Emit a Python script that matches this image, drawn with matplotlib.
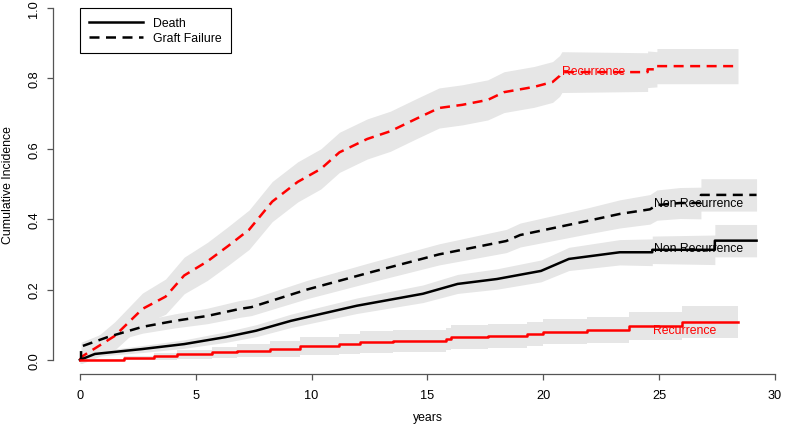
import matplotlib
matplotlib.use("Agg")
import matplotlib.pyplot as plt
import numpy as np
from matplotlib.lines import Line2D

plt.rcParams['font.family'] = ['Liberation Sans', 'DejaVu Sans']

# Recurrence - graft failure (red dashed)
rgf_t = [0, 0.1, 1.5, 2.7, 3.7, 4.5, 5.5, 6.4, 7.3, 8.3, 9.4, 10.4, 11.2, 12.4, 13.4,
         14.5, 15.5, 16.5, 17.6, 18.3, 19.6, 20.4, 20.7, 20.8, 24.5, 24.5, 24.9, 24.9, 28.4]
rgf_v = [0, 0.01, 0.068, 0.145, 0.18, 0.24, 0.28, 0.324, 0.37, 0.45, 0.506, 0.543, 0.59, 0.628, 0.65,
         0.685, 0.716, 0.725, 0.739, 0.761, 0.776, 0.79, 0.807, 0.818, 0.818, 0.826, 0.826, 0.835, 0.835]
rgf_ci = [0.01, 0.02, 0.04, 0.045, 0.05, 0.052, 0.054, 0.055, 0.056, 0.057, 0.057, 0.057, 0.057, 0.057, 0.057,
          0.057, 0.057, 0.057, 0.057, 0.058, 0.058, 0.058, 0.058, 0.058, 0.055, 0.052, 0.05, 0.05, 0.05]

# Non recurrence - graft failure (black dashed)
ngf_t = [0, 0.05, 0.05, 1.2, 2.7, 4.1, 5.5, 6.9, 7.4, 9.8, 12.6, 15.5, 18.4, 19.0, 21.9, 23.3,
         24.6, 24.9, 25.9, 26.8, 26.8, 29.2]
ngf_v = [0, 0, 0.038, 0.065, 0.094, 0.111, 0.125, 0.145, 0.15, 0.2, 0.25, 0.3, 0.338, 0.355, 0.395, 0.415,
         0.428, 0.44, 0.446, 0.446, 0.469, 0.469]
ngf_ci = [0.005, 0.008, 0.012, 0.016, 0.018, 0.02, 0.022, 0.024, 0.024, 0.026, 0.028, 0.03, 0.033, 0.034, 0.037, 0.04,
          0.042, 0.043, 0.044, 0.045, 0.046, 0.046]

# Non recurrence - death (black solid)
nrd_t = [0, 0.65, 2.7, 4.5, 6.3, 7.6, 9.1, 11.95, 14.8, 16.3, 18.0, 19.9, 21.1, 23.3, 24.7, 24.7,
         27.4, 27.4, 29.2]
nrd_v = [0, 0.017, 0.031, 0.045, 0.065, 0.083, 0.111, 0.154, 0.188, 0.216, 0.23, 0.253, 0.287, 0.306, 0.306, 0.313,
         0.313, 0.339, 0.339]
nrd_ci = [0.004, 0.007, 0.01, 0.012, 0.015, 0.017, 0.019, 0.022, 0.025, 0.027, 0.029, 0.031, 0.033, 0.036, 0.038, 0.039,
          0.042, 0.046, 0.046]

# Recurrence - death (red solid, step function)
rd_t = [0, 1.9, 3.2, 4.2, 5.7, 6.8, 8.2, 9.5, 11.2, 12.1, 13.5, 15.8, 16.0, 17.6, 19.3, 20.0, 21.9, 23.7, 26.0, 28.4]
rd_v = [0, 0.005, 0.011, 0.016, 0.022, 0.026, 0.031, 0.04, 0.045, 0.051, 0.054, 0.06, 0.065, 0.068, 0.074, 0.08,
        0.085, 0.097, 0.108, 0.108]
rd_ci = [0.002, 0.006, 0.01, 0.013, 0.016, 0.019, 0.022, 0.026, 0.028, 0.03, 0.031, 0.032, 0.033, 0.034, 0.035, 0.036,
         0.037, 0.04, 0.045, 0.045]

x_ticks = [0, 5, 10, 15, 20, 25, 30]
y_ticks = [0.0, 0.2, 0.4, 0.6, 0.8, 1.0]
y_tick_labels = ["0.0", "0.2", "0.4", "0.6", "0.8", "1.0"]
legend_labels = ["Death", "Graft Failure"]

BAND = '#E6E6E6'
RED = '#FF0000'
FS = 8.8

fig = plt.figure(figsize=(7.87, 4.27), dpi=100)
ax = fig.add_axes([53 / 787, 52 / 427, 725.8 / 787, 380 / 427])
ax.set_xlim(-1.16, 30.16)
ax.set_ylim(-0.04, 1.04)

def band(t, v, ci, step=None):
    t = np.asarray(t, float); v = np.asarray(v, float); ci = np.asarray(ci, float)
    ax.fill_between(t, v - ci, v + ci, color=BAND, lw=0, step=step, zorder=1)

band(rgf_t, rgf_v, rgf_ci)
band(ngf_t, ngf_v, ngf_ci)
band(nrd_t, nrd_v, nrd_ci)
band(rd_t, rd_v, rd_ci, step='post')

LW = 1.8
DASH = (4, 2.6)
ax.plot(rgf_t, rgf_v, color=RED, lw=LW, linestyle=(0, DASH), zorder=3)
ax.plot(ngf_t, ngf_v, color='black', lw=LW, linestyle=(0, DASH), zorder=3)
ax.plot(nrd_t, nrd_v, color='black', lw=LW, zorder=3)
ax.plot(rd_t, rd_v, color=RED, lw=LW, drawstyle='steps-post', zorder=3)

ax.text(22.15, 0.822, "Recurrence", color=RED, fontsize=FS, ha='center', va='center', zorder=4)
ax.text(26.7, 0.446, "Non Recurrence", color='black', fontsize=FS, ha='center', va='center', zorder=4)
ax.text(26.7, 0.318, "Non Recurrence", color='black', fontsize=FS, ha='center', va='center', zorder=4)
ax.text(26.1, 0.085, "Recurrence", color=RED, fontsize=FS, ha='center', va='center', zorder=4)

# R-style axes
for s in ['top', 'right']:
    ax.spines[s].set_visible(False)
ax.spines['left'].set_bounds(0, 1)
ax.spines['bottom'].set_bounds(0, 30)
for s in ['left', 'bottom']:
    ax.spines[s].set_color('#555555')
    ax.spines[s].set_linewidth(0.9)
ax.set_xticks(x_ticks)
ax.set_xticklabels([str(v) for v in x_ticks])
ax.set_yticks(y_ticks)
ax.set_yticklabels(y_tick_labels, rotation=90, va='center')
ax.tick_params(axis='x', length=4.5, width=0.9, color='#555555', labelsize=9.2, pad=6)
ax.tick_params(axis='y', length=4.5, width=0.9, color='#555555', labelsize=9.2, pad=4.5)

fig.text(428 / 787, 1 - 418 / 427, "years", fontsize=FS, ha='center', va='center')
fig.text(8 / 787, 1 - 185 / 427, "Cumulative Incidence", fontsize=FS, ha='center', va='center', rotation=90)

# legend
handles = [Line2D([], [], color='black', lw=LW),
           Line2D([], [], color='black', lw=LW, linestyle=(0, DASH))]
leg = ax.legend(handles, legend_labels, loc='upper left',
                bbox_to_anchor=((80 - 53) / 725.8, 1 - 14 / 380), fontsize=FS,
                frameon=True, fancybox=False, edgecolor='black', framealpha=1,
                handlelength=4.4, handletextpad=0.85, borderpad=0.75, labelspacing=0.25,
                borderaxespad=0)
leg.get_frame().set_linewidth(0.8)

fig.savefig("out.png", dpi=100)
